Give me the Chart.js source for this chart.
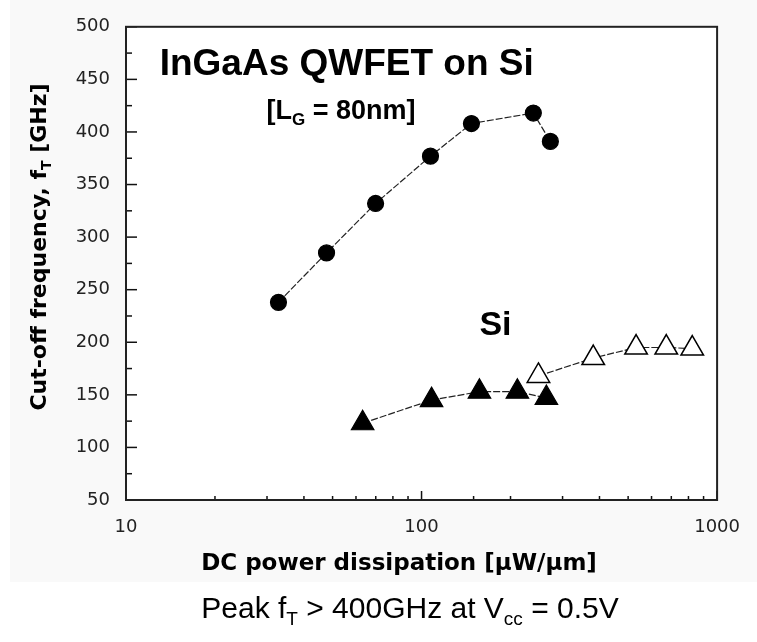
<!DOCTYPE html>
<html>
<head>
<meta charset="utf-8">
<script src="https://cdn.jsdelivr.net/npm/chart.js@4.4.0/dist/chart.umd.min.js"></script>
<style>
  html, body { margin: 0; padding: 0; background: #fff; }
  #box { position: relative; width: 757px; height: 642px; }
</style>
</head>
<body>
<div id="box"><canvas id="ftChart"></canvas></div>
<script>
// InGaAs QWFET (filled circles)
var ingaasPower = [32.8, 47.7, 69.9, 107.2, 147.5, 238.9, 272.8];
var ingaasFt = [238, 285, 332, 377, 408, 418, 391];
// Si (filled triangles)
var siPowerA = [63.2, 108.1, 157, 211, 264.5];
var siFtA = [123, 145, 153, 153, 147];
// Si (open triangles)
var siPowerB = [248.6, 381, 532, 673, 824];
var siFtB = [168, 185, 195, 195, 194];

var xTickLabels = [10, 100, 1000];
var yTickLabels = [50, 100, 150, 200, 250, 300, 350, 400, 450, 500];

var SANS = '"Liberation Sans", Arial, sans-serif';
var AXIS = '"DejaVu Sans", sans-serif';

function toPoints(xs, ys) {
    return xs.map(function (x, i) { return { x: x, y: ys[i] }; });
}

// text with subscripts: parts = [[text, isSub], ...]
function drawRich(ctx, parts, x, y, size, weight, family, align) {
    var subSize = Math.round(size * 0.62);
    var w = 0;
    parts.forEach(function (p) {
        ctx.font = weight + ' ' + (p[1] ? subSize : size) + 'px ' + family;
        w += ctx.measureText(p[0]).width;
    });
    var cx = align === 'center' ? x - w / 2 : x;
    parts.forEach(function (p) {
        ctx.font = weight + ' ' + (p[1] ? subSize : size) + 'px ' + family;
        ctx.fillText(p[0], cx, p[1] ? y + size * 0.22 : y);
        cx += ctx.measureText(p[0]).width;
    });
}

// labels placed in data coordinates
var notes = [
    { parts: [['InGaAs QWFET on Si', 0]], x: 13.0, y: 454, size: 37 },
    { parts: [['[L', 0], ['G', 1], [' = 80nm]', 0]], x: 29.9, y: 412, size: 27 },
    { parts: [['Si', 0]], x: 157, y: 207, size: 34 }
];

var decorations = {
    id: 'decorations',
    beforeDraw: function (chart) {
        // faint grey backing of the pasted figure
        var ctx = chart.ctx;
        ctx.save();
        ctx.fillStyle = '#f9f9f9';
        ctx.fillRect(10, 0, chart.width - 10, 582);
        ctx.fillStyle = '#fff';
        ctx.fillRect(chart.chartArea.left, chart.chartArea.top,
            chart.chartArea.right - chart.chartArea.left, chart.chartArea.bottom - chart.chartArea.top);
        ctx.restore();
    },
    afterDraw: function (chart) {
        var ctx = chart.ctx, a = chart.chartArea;
        var xs = chart.scales.x, ys = chart.scales.y;
        ctx.save();
        // inward tick marks
        ctx.strokeStyle = '#111';
        ctx.lineWidth = 1.5;
        xs.ticks.forEach(function (t) {
            var px = xs.getPixelForValue(t.value);
            var len = xTickLabels.indexOf(t.value) >= 0 ? 9 : 4;
            ctx.beginPath();
            ctx.moveTo(px, a.bottom);
            ctx.lineTo(px, a.bottom - len);
            ctx.stroke();
        });
        ys.ticks.forEach(function (t) {
            var py = ys.getPixelForValue(t.value);
            var len = yTickLabels.indexOf(t.value) >= 0 ? 11 : 6;
            ctx.beginPath();
            ctx.moveTo(a.left, py);
            ctx.lineTo(a.left + len, py);
            ctx.stroke();
        });
        // frame
        ctx.strokeStyle = '#222';
        ctx.lineWidth = 2;
        ctx.strokeRect(a.left, a.top, a.right - a.left, a.bottom - a.top);

        ctx.fillStyle = '#000';
        ctx.textBaseline = 'alphabetic';
        notes.forEach(function (n) {
            drawRich(ctx, n.parts, xs.getPixelForValue(n.x), ys.getPixelForValue(n.y), n.size, 'bold', SANS, 'left');
        });

        // axis titles
        drawRich(ctx, [['DC power dissipation [\u00b5W/\u00b5m]', 0]], 399, 570, 23, 'bold', AXIS, 'center');
        ctx.save();
        ctx.translate(46, 247);
        ctx.rotate(-Math.PI / 2);
        drawRich(ctx, [['Cut-off frequency, f', 0], ['T', 1], [' [GHz]', 0]], 0, 0, 22, 'bold', AXIS, 'center');
        ctx.restore();

        // caption under the figure
        drawRich(ctx, [['Peak f', 0], ['T', 1], [' > 400GHz at V', 0], ['cc', 1], [' = 0.5V', 0]],
            410, 618, 30, 'normal', SANS, 'center');
        ctx.restore();
    }
};

var ftChart = new Chart(document.getElementById('ftChart'), {
    type: 'scatter',
    data: {
        datasets: [
            {
                label: 'InGaAs QWFET',
                data: toPoints(ingaasPower, ingaasFt),
                showLine: true,
                borderColor: '#222',
                borderWidth: 1.2,
                borderDash: [7, 2],
                pointStyle: 'circle',
                pointRadius: 8,
                pointBackgroundColor: '#000',
                pointBorderColor: '#000'
            },
            {
                label: 'Si',
                data: toPoints(siPowerA, siFtA),
                showLine: true,
                borderColor: '#222',
                borderWidth: 1.2,
                borderDash: [7, 2],
                pointStyle: 'triangle',
                pointRadius: 13,
                pointBackgroundColor: '#000',
                pointBorderColor: '#000'
            },
            {
                label: 'Si (open)',
                data: toPoints(siPowerB, siFtB),
                showLine: true,
                borderColor: '#222',
                borderWidth: 1.2,
                borderDash: [7, 2],
                pointStyle: 'triangle',
                pointRadius: 13,
                pointBorderWidth: 1.5,
                pointBackgroundColor: '#fff',
                pointBorderColor: '#000'
            }
        ]
    },
    options: {
        responsive: true,
        maintainAspectRatio: false,
        animation: false,
        layout: { padding: { left: 0, top: 19, right: 39, bottom: 0 } },
        plugins: {
            legend: { display: false },
            tooltip: { enabled: false }
        },
        scales: {
            x: {
                type: 'logarithmic',
                min: 10,
                max: 1000,
                grid: { display: false, drawTicks: false },
                border: { display: false },
                afterFit: function (s) { s.height = 142; },
                ticks: {
                    autoSkip: false,
                    maxRotation: 0,
                    padding: 17,
                    color: '#222',
                    font: { family: AXIS, size: 18 },
                    callback: function (v) {
                        return xTickLabels.indexOf(v) >= 0 ? String(v) : '';
                    }
                }
            },
            y: {
                min: 50,
                max: 500,
                grid: { display: false, drawTicks: false },
                border: { display: false },
                afterFit: function (s) { s.width = 126; },
                ticks: {
                    stepSize: 25,
                    autoSkip: false,
                    padding: 16,
                    color: '#222',
                    font: { family: AXIS, size: 18 },
                    callback: function (v) {
                        return yTickLabels.indexOf(v) >= 0 ? String(v) : '';
                    }
                }
            }
        }
    },
    plugins: [decorations]
});
</script>
</body>
</html>
